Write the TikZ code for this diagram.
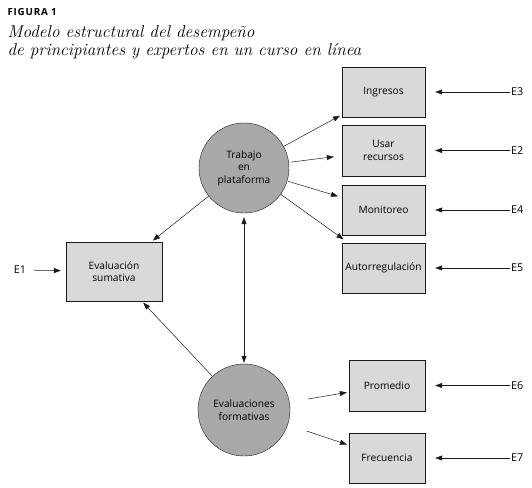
\documentclass[tikz,border=0pt]{standalone}
\usepackage{fontspec}
\setsansfont{Open Sans}
\newfontfamily\figfont{Open Sans}[LetterSpace=8.0]
\usetikzlibrary{arrows.meta, positioning, calc}
\definecolor{cbox}{HTML}{D9D9D9}
\definecolor{ccirc}{HTML}{A9A9A9}
\definecolor{cdark}{HTML}{1A1A1A}

\begin{document}
\begin{tikzpicture}[
    x=1pt, y=-1pt,
    font=\sffamily\fontsize{10.2}{12.5}\selectfont,
    obs/.style={
        rectangle, draw=cdark, fill=cbox, minimum width=83pt,
        minimum height=50pt, inner sep=1pt, align=center
    },
    latent/.style={
        circle, draw=cdark, fill=ccirc, minimum size=90pt,
        inner sep=0pt, align=center
    },
    err/.style={inner sep=1pt, font=\sffamily\fontsize{10.8}{12}\selectfont},
    edge/.style={-{Triangle[length=7pt,width=5pt]}, draw=cdark, line width=0.5pt}
]
\useasboundingbox (0,0) rectangle (532,487);

% title
\node[anchor=west, font=\figfont\bfseries\fontsize{9.8}{11}\selectfont] (fig) at (4,12) {FIGURA 1};
\node[anchor=west, font=\itshape\fontsize{17.2}{18}\selectfont, align=left] (tit) at (4,42)
  {Modelo estructural del desempeño\\de principiantes y expertos en un curso en línea};

% latent variables
\node[latent] (trab) at (244,168) {Trabajo\\en\\plataforma};
\node[latent, minimum size=92pt] (form) at (244,410) {Evaluaciones\\formativas};

% observed variables
\node[obs] (ingr) at (383.5,92)    {Ingresos};
\node[obs, minimum height=51pt] (usar) at (383.5,150.5) {Usar\\recursos};
\node[obs] (moni) at (383.5,210)   {Monitoreo};
\node[obs] (auto) at (383.5,268)   {Autorregulación};
\node[obs, minimum width=96pt, minimum height=59pt] (suma) at (114,271.5) {Evaluación\\sumativa};
\node[obs, minimum width=76pt, minimum height=51pt] (prom) at (387,385.5) {Promedio};
\node[obs, minimum width=76pt] (frec) at (387,458) {Frecuencia};

% error terms
\foreach \e/\b in {E3/ingr, E2/usar, E4/moni, E5/auto, E6/prom, E7/frec}{
  \node[err, anchor=west] (\e) at (510,0 |- \b) {\e};
  \draw[edge, shorten >=10pt] (\e) -- (\b);
}
\node[err] (E1) at (20,270) {E1};
\draw[edge, shorten <=6pt, shorten >=5pt] (E1) -- (suma);

% paths
\foreach \a/\b/\s/\t in {trab/ingr/0/2, trab/usar/2/8, trab/moni/1/4, trab/auto/0/6,
                        trab/suma/0/2, form/suma/0/2, form/prom/19/2, form/frec/20/2}
  \draw[edge, shorten <=\s pt, shorten >=\t pt] (\a) -- (\b);

\draw[edge, {Triangle[length=7pt,width=5pt]}-{Triangle[length=7pt,width=5pt]},
      shorten <=4pt, shorten >=1pt] (trab) -- (form);
\end{tikzpicture}
\end{document}
